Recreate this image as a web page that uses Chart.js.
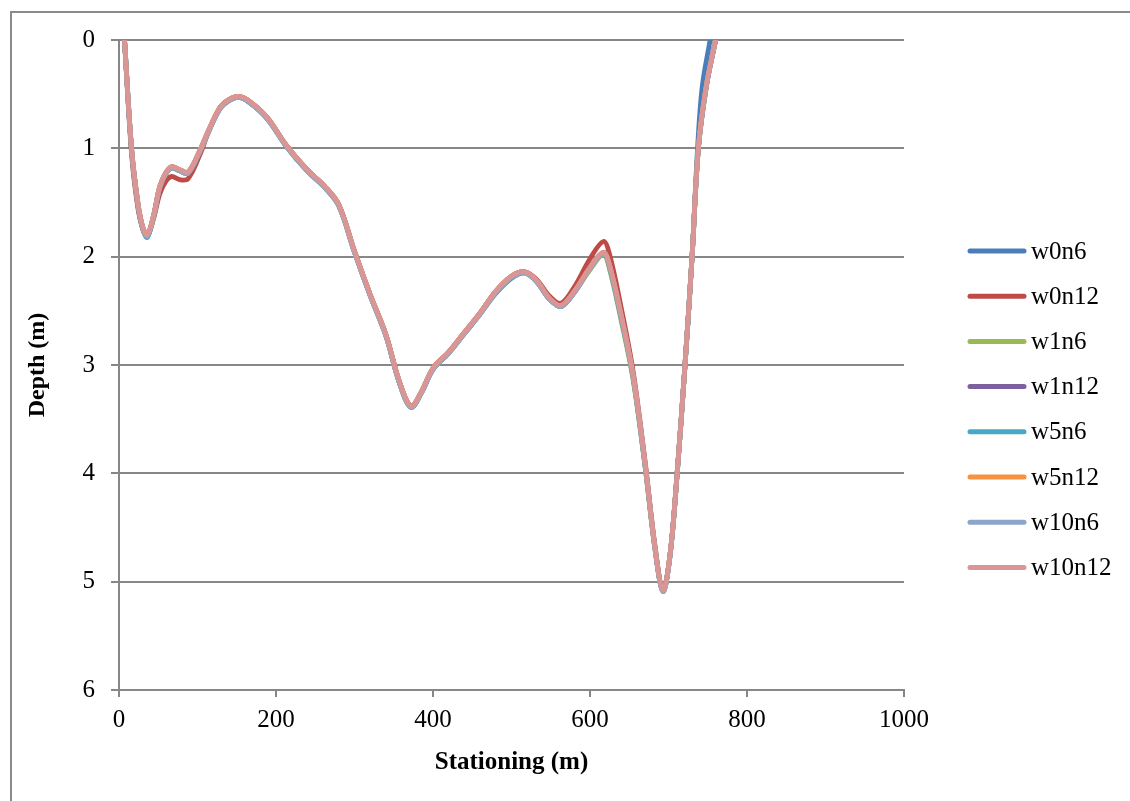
<!DOCTYPE html>
<html>
<head>
<meta charset="utf-8">
<title>Depth profile</title>
<script src="https://cdn.jsdelivr.net/npm/chart.js@4.4.1/dist/chart.umd.min.js"></script>
<style>
  html, body { margin: 0; padding: 0; background: #ffffff; }
  body { width: 1130px; height: 801px; position: relative; overflow: hidden; }
  #frame {
    position: absolute; left: 10px; top: 11px; width: 1200px; height: 900px;
    border-left: 2px solid #8a8a8a; border-top: 2px solid #8a8a8a; box-sizing: border-box;
  }
  #wrap { position: absolute; left: 0; top: 0; width: 1130px; height: 801px; }
</style>
</head>
<body>
<div id="frame"></div>
<div id="wrap"><canvas id="c" width="1130" height="801"></canvas></div>
<script>
// Stationing along the cross-section (m)
const stations = [7, 16, 24, 30, 36, 44, 52, 60, 67, 78, 88, 103, 115, 129, 140, 152, 165, 188, 214, 240,
  262, 280, 300, 320, 340, 357, 372, 385, 400, 420, 440, 460, 480, 500, 517, 532, 548, 563, 580, 600,
  617, 625, 640, 655, 670, 683, 693, 702, 711, 721, 730, 738, 748, 760];
// w0n6 closes the right bank a little earlier
const stationsW0n6 = [7, 16, 24, 30, 36, 44, 52, 60, 67, 78, 88, 103, 115, 129, 140, 152, 165, 188, 214, 240,
  262, 280, 300, 320, 340, 357, 372, 385, 400, 420, 440, 460, 480, 500, 517, 532, 548, 563, 580, 600,
  617, 625, 640, 655, 670, 683, 693, 702, 711, 721, 730, 737, 743, 753];

// Depth (m) for each run
const depthW0n6 = [0, 1.02, 1.52, 1.74, 1.82, 1.63, 1.36, 1.23, 1.18, 1.21, 1.23, 1.03, 0.83, 0.63, 0.56, 0.53, 0.57, 0.72, 0.99, 1.21,
  1.36, 1.53, 1.96, 2.36, 2.73, 3.16, 3.39, 3.26, 3.04, 2.89, 2.71, 2.53, 2.34, 2.2, 2.15, 2.23, 2.39, 2.46, 2.33, 2.1,
  1.97, 2.1, 2.57, 3.12, 3.92, 4.7, 5.09, 4.75, 4.0, 3.0, 2.0, 1.0, 0.43, 0];
const depthW0n12 = [0, 1.05, 1.55, 1.74, 1.81, 1.65, 1.42, 1.3, 1.26, 1.29, 1.28, 1.06, 0.83, 0.62, 0.55, 0.52, 0.56, 0.71, 0.98, 1.2,
  1.35, 1.52, 1.95, 2.35, 2.72, 3.15, 3.38, 3.25, 3.03, 2.88, 2.7, 2.52, 2.32, 2.18, 2.14, 2.21, 2.36, 2.43, 2.28, 2.02,
  1.86, 1.98, 2.48, 3.06, 3.88, 4.68, 5.08, 4.75, 4.0, 3.0, 2.0, 1.0, 0.43, 0];
const depthW1n6 = [0, 1.01, 1.51, 1.73, 1.81, 1.63, 1.36, 1.23, 1.18, 1.21, 1.23, 1.03, 0.83, 0.63, 0.56, 0.53, 0.57, 0.72, 0.99, 1.21,
  1.36, 1.53, 1.96, 2.36, 2.73, 3.16, 3.39, 3.26, 3.04, 2.89, 2.71, 2.53, 2.33, 2.19, 2.15, 2.23, 2.39, 2.46, 2.33, 2.12,
  1.98, 2.12, 2.6, 3.14, 3.93, 4.71, 5.09, 4.76, 4.01, 3.01, 2.01, 1.01, 0.44, 0];
const depthW1n12 = [0, 1.0, 1.5, 1.72, 1.8, 1.62, 1.35, 1.22, 1.17, 1.2, 1.22, 1.02, 0.82, 0.62, 0.55, 0.52, 0.56, 0.71, 0.98, 1.2,
  1.35, 1.52, 1.95, 2.35, 2.72, 3.15, 3.38, 3.25, 3.03, 2.88, 2.7, 2.52, 2.32, 2.18, 2.14, 2.22, 2.38, 2.45, 2.32, 2.1,
  1.96, 2.08, 2.55, 3.1, 3.9, 4.7, 5.08, 4.75, 4.0, 3.0, 2.0, 1.0, 0.43, 0];
const depthW5n6 = [0, 1.01, 1.51, 1.73, 1.82, 1.63, 1.36, 1.23, 1.18, 1.21, 1.23, 1.03, 0.83, 0.63, 0.56, 0.53, 0.57, 0.72, 0.99, 1.21,
  1.36, 1.53, 1.96, 2.36, 2.73, 3.16, 3.39, 3.26, 3.04, 2.89, 2.71, 2.53, 2.33, 2.19, 2.15, 2.23, 2.39, 2.46, 2.33, 2.11,
  1.97, 2.1, 2.58, 3.12, 3.92, 4.71, 5.09, 4.76, 4.01, 3.01, 2.01, 1.01, 0.44, 0];
const depthW5n12 = [0, 1.0, 1.5, 1.72, 1.8, 1.62, 1.35, 1.22, 1.17, 1.2, 1.22, 1.02, 0.82, 0.62, 0.55, 0.52, 0.56, 0.71, 0.98, 1.2,
  1.35, 1.52, 1.95, 2.35, 2.72, 3.15, 3.38, 3.25, 3.03, 2.88, 2.7, 2.52, 2.32, 2.18, 2.14, 2.22, 2.38, 2.45, 2.32, 2.1,
  1.96, 2.08, 2.55, 3.1, 3.9, 4.7, 5.08, 4.75, 4.0, 3.0, 2.0, 1.0, 0.43, 0];
const depthW10n6 = [0, 1.01, 1.51, 1.73, 1.81, 1.63, 1.36, 1.23, 1.18, 1.21, 1.23, 1.03, 0.83, 0.63, 0.56, 0.53, 0.57, 0.72, 0.99, 1.21,
  1.36, 1.53, 1.96, 2.36, 2.73, 3.16, 3.39, 3.26, 3.04, 2.89, 2.71, 2.53, 2.33, 2.19, 2.15, 2.23, 2.39, 2.46, 2.33, 2.11,
  1.97, 2.09, 2.56, 3.11, 3.91, 4.7, 5.09, 4.76, 4.0, 3.0, 2.0, 1.0, 0.43, 0];
const depthW10n12 = [0, 1.0, 1.5, 1.72, 1.8, 1.62, 1.35, 1.22, 1.17, 1.2, 1.22, 1.02, 0.82, 0.62, 0.55, 0.52, 0.56, 0.71, 0.98, 1.2,
  1.35, 1.52, 1.95, 2.35, 2.72, 3.15, 3.38, 3.25, 3.03, 2.88, 2.7, 2.52, 2.32, 2.18, 2.14, 2.22, 2.38, 2.45, 2.32, 2.1,
  1.96, 2.08, 2.55, 3.1, 3.9, 4.7, 5.08, 4.75, 4.0, 3.0, 2.0, 1.0, 0.43, 0];

const seriesNames = ['w0n6', 'w0n12', 'w1n6', 'w1n12', 'w5n6', 'w5n12', 'w10n6', 'w10n12'];
const seriesColors = ['#4a7ebb', '#be4b48', '#98b954', '#7d60a0', '#46aac5', '#f69240', '#8ea5cb', '#d99694'];
const seriesStations = [stationsW0n6, stations, stations, stations, stations, stations, stations, stations];
const seriesDepths = [depthW0n6, depthW0n12, depthW1n6, depthW1n12, depthW5n6, depthW5n12, depthW10n6, depthW10n12];

const xTicks = [0, 200, 400, 600, 800, 1000];
const yTicks = [0, 1, 2, 3, 4, 5, 6];

const SERIF = '"Liberation Serif", "Times New Roman", serif';
const GRID = '#878787';

// later series are painted over earlier ones
const datasets = seriesNames.map((name, i) => ({
  label: name,
  data: seriesStations[i].map((x, k) => ({ x: x, y: seriesDepths[i][k] })),
  order: seriesNames.length - i,
  borderColor: seriesColors[i],
  backgroundColor: seriesColors[i],
  borderWidth: 4.8,
  pointRadius: 0,
  fill: false,
  tension: 0.35,
  borderCapStyle: 'round',
  borderJoinStyle: 'round'
}));

// Legend drawn to the right of the plot: short round-capped line plus series name
const sideLegend = {
  id: 'sideLegend',
  afterDraw(chart) {
    const ctx = chart.ctx;
    const x0 = 970, x1 = 1024, top = 251, step = 45.2;
    ctx.save();
    seriesNames.forEach((name, i) => {
      const y = top + i * step;
      ctx.strokeStyle = seriesColors[i];
      ctx.lineWidth = 5;
      ctx.lineCap = 'round';
      ctx.beginPath();
      ctx.moveTo(x0, y);
      ctx.lineTo(x1, y);
      ctx.stroke();
      ctx.fillStyle = '#000000';
      ctx.font = '25px ' + SERIF;
      ctx.textAlign = 'left';
      ctx.textBaseline = 'middle';
      ctx.fillText(name, 1031, y + 1);
    });
    ctx.restore();
  }
};

new Chart(document.getElementById('c'), {
  type: 'line',
  data: { datasets: datasets },
  plugins: [sideLegend],
  options: {
    responsive: false,
    animation: false,
    layout: { padding: { top: 40, right: 226, bottom: 0, left: 0 } },
    plugins: {
      legend: { display: false },
      tooltip: { enabled: false }
    },
    scales: {
      x: {
        type: 'linear',
        min: 0,
        max: 1000,
        afterBuildTicks(scale) { scale.ticks = xTicks.map(v => ({ value: v })); },
        afterFit(scale) { scale.height = 111; },
        grid: { drawOnChartArea: false, drawTicks: true, tickLength: 7, color: GRID, lineWidth: 2 },
        border: { display: true, color: GRID, width: 2 },
        ticks: {
          color: '#000000', font: { family: SERIF, size: 25 }, padding: 8, maxRotation: 0,
          callback: (v) => String(v)
        },
        title: {
          display: true,
          text: 'Stationing (m)',
          color: '#000000',
          font: { family: SERIF, size: 25, weight: 'bold' },
          padding: { top: 0, bottom: 23 }
        }
      },
      y: {
        type: 'linear',
        reverse: true,
        min: 0,
        max: 6,
        afterBuildTicks(scale) { scale.ticks = yTicks.map(v => ({ value: v })); },
        afterFit(scale) { scale.width = 119; },
        grid: { drawOnChartArea: true, drawTicks: true, tickLength: 8, color: GRID, lineWidth: 2 },
        border: { display: true, color: GRID, width: 2 },
        ticks: { color: '#000000', font: { family: SERIF, size: 25 }, padding: 16, callback: (v) => String(v) },
        title: {
          display: true,
          text: 'Depth (m)',
          color: '#000000',
          font: { family: SERIF, size: 24, weight: 'bold' },
          padding: { top: 23, bottom: 0 }
        }
      }
    }
  }
});
</script>
</body>
</html>
